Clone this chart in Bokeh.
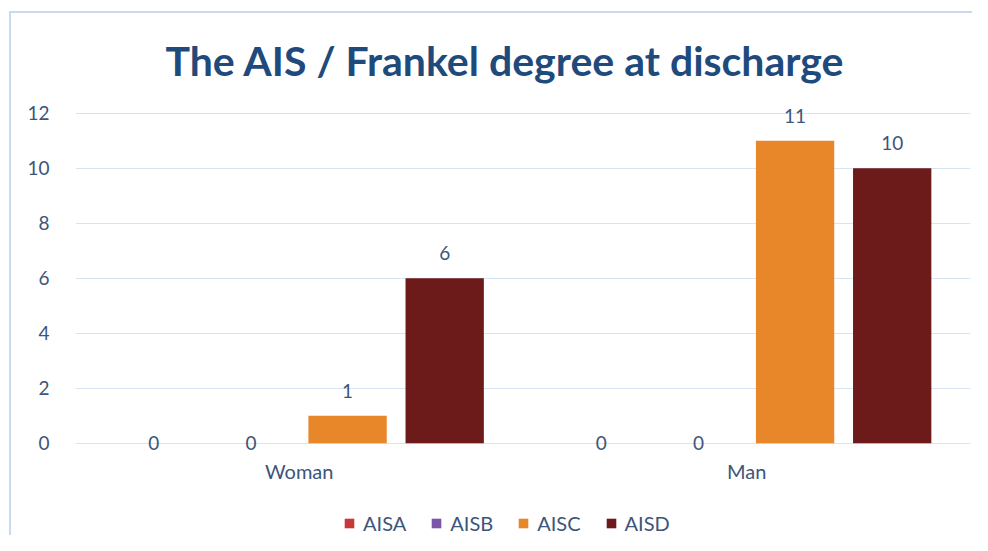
from bokeh.plotting import figure
from bokeh.layouts import column
from bokeh.models import ColumnDataSource, FactorRange, Range1d, SingleIntervalTicker, Legend, LegendItem
from bokeh.transform import dodge
from bokeh.core.properties import value
from bokeh.embed import file_html
from bokeh.resources import INLINE

categories = ["Woman", "Man"]
series = ["AISA", "AISB", "AISC", "AISD"]
aisa = [0, 0]
aisb = [0, 0]
aisc = [1, 11]
aisd = [6, 10]
colors = ["#c8373a", "#7b55a8", "#e8862a", "#6d1a1a"]
offsets = [-0.325, -0.108, 0.108, 0.325]

FONT = "Lato"
TXT = "#3d5578"
EDGE = "#c9d9ef"

bg = ("linear-gradient(%s,%s) 9px 11px / 2px 100%% no-repeat, "
      "linear-gradient(%s,%s) 9px 11px / 100%% 2px no-repeat, #ffffff") % (EDGE, EDGE, EDGE, EDGE)

p = figure(x_range=FactorRange(factors=categories), y_range=Range1d(-0.3, 12.5),
           frame_width=895, frame_height=352, output_backend="svg", toolbar_location=None,
           min_border_left=75, min_border_right=2, min_border_top=99, min_border_bottom=50,
           border_fill_color=None, background_fill_color=None)

p.title.text = "The AIS / Frankel degree at discharge"
p.title.align = "left"
p.title.offset = 90
p.title.text_font = FONT
p.title.text_font_size = "41px"
p.title.text_font_style = "bold"
p.title.text_color = "#1f4a7c"
p.title.standoff = 30

data = dict(cat=categories, AISA=aisa, AISB=aisb, AISC=aisc, AISD=aisd)
src = ColumnDataSource(data)

for s, c, off in zip(series, colors, offsets):
    p.vbar(x=dodge("cat", off, range=p.x_range), top=s, bottom=0, width=0.175, source=src,
           fill_color=c, line_color=None)
    vals = data[s]
    lsrc = ColumnDataSource(dict(cat=categories, v=vals, t=[str(v) for v in vals],
                                 yo=[-25 if v > 0 else 0 for v in vals]))
    p.text(x=dodge("cat", off, range=p.x_range), y="v", text="t", y_offset="yo", source=lsrc,
           text_align="center", text_baseline="middle", text_font=value(FONT),
           text_font_size="19px", text_color=TXT)

p.yaxis.ticker = SingleIntervalTicker(interval=2)
for ax in (p.xaxis[0], p.yaxis[0]):
    ax.axis_line_color = None
    ax.major_tick_line_color = None
    ax.minor_tick_line_color = None
    ax.major_label_text_font = FONT
    ax.major_label_text_color = TXT
p.yaxis.major_label_text_font_size = "19px"
p.xaxis.major_label_text_font_size = "20px"
p.yaxis.major_label_standoff = 20
p.xaxis.major_label_standoff = 1

p.xgrid.grid_line_color = None
p.ygrid.grid_line_color = "#d9e4f2"
p.ygrid.grid_line_width = 1
p.outline_line_color = None

# legend strip (legends are clipped to the frame, so it gets its own small frame);
# its bars share the data but lie outside its y-range, so only the legend shows
lg = figure(x_range=FactorRange(factors=categories), y_range=Range1d(100, 101),
            frame_width=972, frame_height=34,
            output_backend="svg", toolbar_location=None,
            min_border_left=0, min_border_right=0, min_border_top=0, min_border_bottom=0,
            x_axis_location=None, y_axis_location=None,
            border_fill_color=None, background_fill_color=None)
lg.grid.visible = False
lg.outline_line_color = None
items = []
for s, c, off in zip(series, colors, offsets):
    r = lg.vbar(x=dodge("cat", off, range=lg.x_range), top=s, bottom=0, width=0.175,
                source=src, fill_color=c, line_color=None)
    items.append(LegendItem(label=s, renderers=[r]))
legend = Legend(items=items, orientation="horizontal", location=(343, 0),
                label_text_font=FONT, label_text_font_size="20px", label_text_color=TXT,
                glyph_width=12, glyph_height=12, spacing=24, label_standoff=8,
                border_line_color=None, background_fill_color=None, padding=0, margin=0)
lg.add_layout(legend, "center")

layout = column(p, lg, styles={"background": bg})

open("out.html", "w").write(file_html(layout, INLINE))
